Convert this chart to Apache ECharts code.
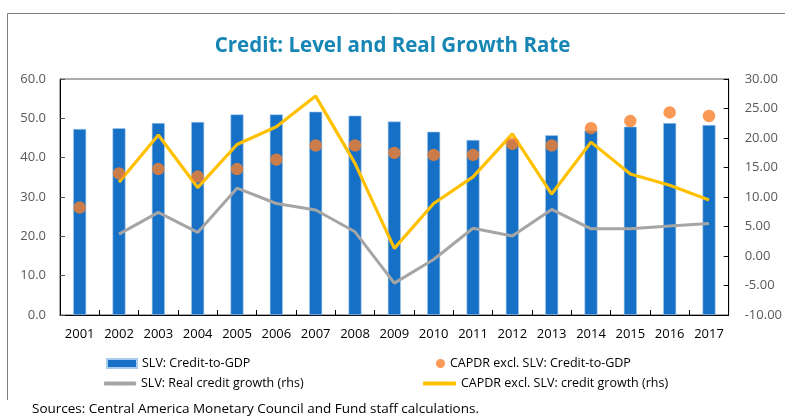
<!DOCTYPE html>
<html>
<head>
<meta charset="utf-8">
<script src="https://cdn.jsdelivr.net/npm/echarts@6/dist/echarts.min.js"></script>
<style>
  html, body { margin: 0; padding: 0; background: #fff; }
  #chart { width: 785px; height: 417px; }
</style>
</head>
<body>
<div id="chart"></div>
<script>
// Years on the category axis
const years = ['2001','2002','2003','2004','2005','2006','2007','2008','2009',
               '2010','2011','2012','2013','2014','2015','2016','2017'];

// Left axis: credit-to-GDP, percent
const slvCreditToGdp   = [47.3, 47.5, 48.8, 49.1, 51.0, 51.0, 51.7, 50.7, 49.2,
                          46.6, 44.5, 44.6, 45.7, 46.9, 47.9, 48.8, 48.3];
const capdrCreditToGdp = [27.3, 36.0, 37.1, 35.2, 37.1, 39.5, 43.1, 43.1, 41.2,
                          40.7, 40.7, 43.5, 43.1, 47.5, 49.3, 51.5, 50.6];

// Right axis: growth rates, percent (no 2001 observation)
const slvRealGrowth    = ['-', 3.7, 7.4, 4.0, 11.5, 8.9, 7.8, 4.1, -4.6,
                          -0.6, 4.7, 3.4, 7.9, 4.6, 4.6, 5.1, 5.5];
const capdrGrowth      = ['-', 12.5, 20.5, 11.6, 18.9, 21.9, 27.1, 15.7, 1.3,
                          8.9, 13.4, 20.7, 10.5, 19.3, 13.9, 12.0, 9.5];

// Series names shown in the legend
const names = {
  bar: 'SLV: Credit-to-GDP',
  dot: 'CAPDR excl. SLV: Credit-to-GDP',
  gray: 'SLV: Real credit growth (rhs)',
  yellow: 'CAPDR excl. SLV: credit growth (rhs)'
};

const FONT = '"Open Sans", "Noto Sans", sans-serif';
const chart = echarts.init(document.getElementById('chart'));

function legendAt(name, left, top, icon, w, h) {
  return {
    data: [name], left: left, top: top, icon: icon,
    itemWidth: w, itemHeight: h, itemGap: 0, padding: 0,
    textStyle: { fontFamily: FONT, fontSize: 12.5, color: '#000' }
  };
}

chart.setOption({
  animation: false,
  backgroundColor: '#fff',
  textStyle: { fontFamily: FONT },
  title: {
    text: 'Credit: Level and Real Growth Rate',
    left: 'center', top: 31,
    textStyle: { fontFamily: FONT, fontSize: 20.5, fontWeight: 'bold', color: '#1786b5' }
  },
  grid: {
    left: 60, right: 53, top: 79, bottom: 102,
    show: true, borderColor: '#595959', borderWidth: 1
  },
  legend: [
    legendAt(names.bar, 106, 357, 'rect', 30, 9),
    legendAt(names.dot, 436, 357, 'circle', 9, 9),
    legendAt(names.gray, 104, 377, 'roundRect', 32, 4),
    legendAt(names.yellow, 423, 377, 'roundRect', 33, 4)
  ],
  xAxis: {
    type: 'category', data: years,
    axisLine: { lineStyle: { color: '#000', width: 1 } },
    axisTick: { show: true, inside: true, length: 5, alignWithLabel: false,
                lineStyle: { color: '#000' } },
    axisLabel: { color: '#000', fontSize: 13, margin: 13, fontFamily: FONT, interval: 0 }
  },
  yAxis: [
    {
      type: 'value', min: 0, max: 60, interval: 10, position: 'left',
      axisLine: { show: true, lineStyle: { color: '#000' } },
      axisTick: { show: true, inside: true, length: 5, lineStyle: { color: '#555' } },
      splitLine: { show: false },
      axisLabel: { color: '#595959', fontSize: 13, margin: 14, fontFamily: FONT,
                   formatter: v => v.toFixed(1) }
    },
    {
      type: 'value', min: -10, max: 30, interval: 5, position: 'right',
      axisLine: { show: true, lineStyle: { color: '#000' } },
      axisTick: { show: true, inside: true, length: 5, lineStyle: { color: '#000' } },
      splitLine: { show: false },
      axisLabel: { color: '#595959', fontSize: 13, margin: 16, fontFamily: FONT,
                   formatter: v => v.toFixed(2) }
    }
  ],
  series: [
    {
      name: names.bar, type: 'bar', data: slvCreditToGdp, yAxisIndex: 0,
      barWidth: 13,
      itemStyle: { color: '#1570c6', borderColor: '#a9cbec', borderWidth: 0.6 }
    },
    {
      name: names.gray, type: 'line', data: slvRealGrowth, yAxisIndex: 1,
      symbol: 'none', lineStyle: { color: '#a5a5a5', width: 3 },
      itemStyle: { color: '#a5a5a5' }, z: 3
    },
    {
      name: names.yellow, type: 'line', data: capdrGrowth, yAxisIndex: 1,
      symbol: 'none', lineStyle: { color: '#ffc000', width: 3.2 },
      itemStyle: { color: '#ffc000' }, z: 4
    },
    {
      name: names.dot, type: 'scatter', data: capdrCreditToGdp, yAxisIndex: 0,
      symbol: 'circle', symbolSize: 12.5,
      itemStyle: { color: '#f77f2a' }, z: 5
    }
  ],
  graphic: [
    {
      type: 'polyline', silent: true,
      shape: { points: [[785, 13.5], [7.5, 13.5], [7.5, 400]] },
      style: { stroke: '#7f7f7f', lineWidth: 1, fill: null }
    },
    {
      type: 'text', left: 32, top: 402, silent: true,
      style: {
        text: 'Sources: Central America Monetary Council and Fund staff calculations.',
        fontFamily: FONT, fontSize: 13.5, fill: '#000'
      }
    }
  ]
});
</script>
</body>
</html>
